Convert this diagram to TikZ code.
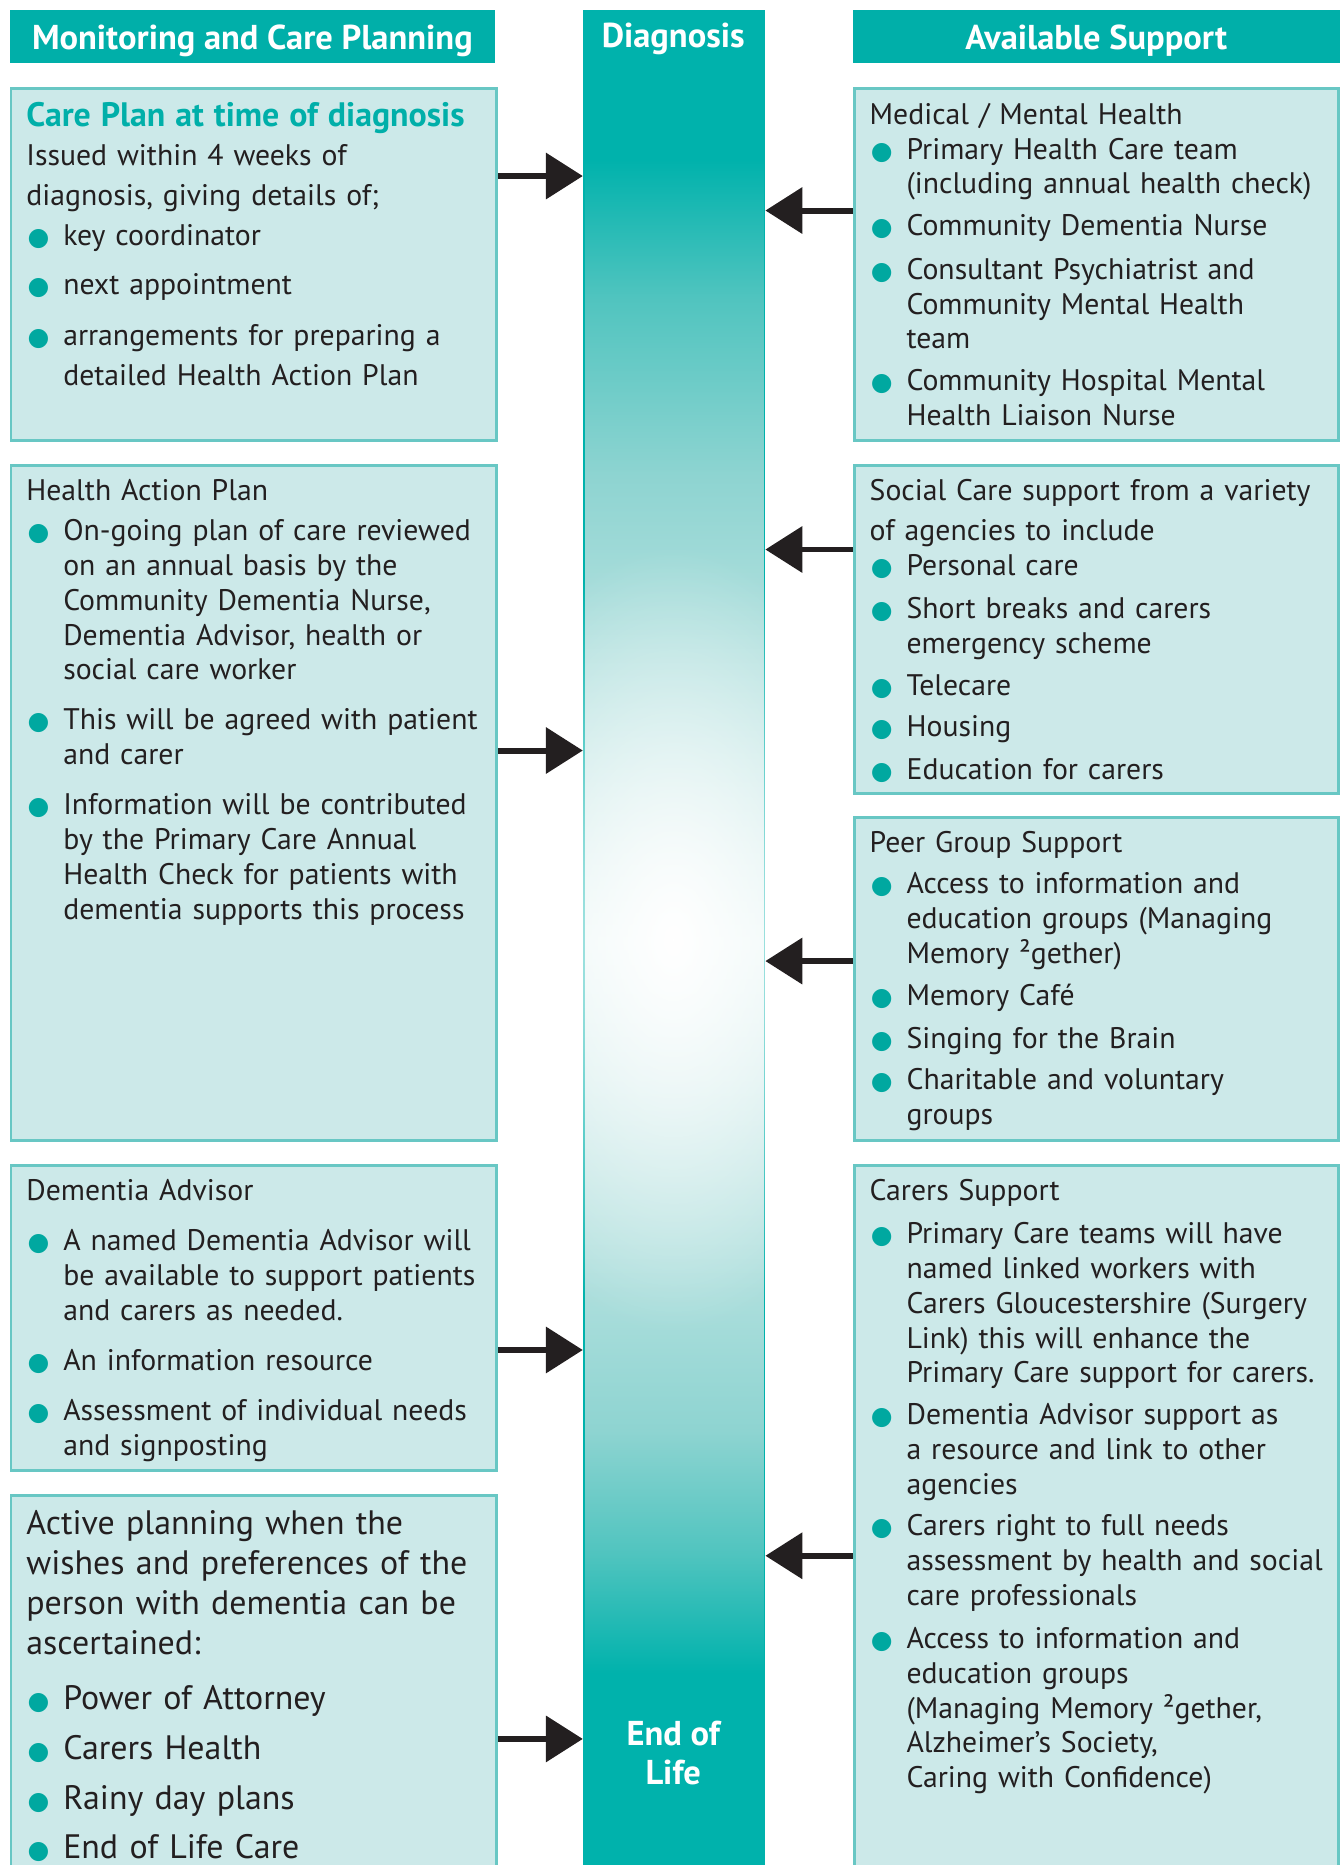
\documentclass[tikz,border=0pt]{standalone}
\usepackage{fontspec}
\setmainfont{PT Sans}
\newfontfamily\symf{DejaVu Sans}
\usetikzlibrary{arrows.meta,positioning,calc,fadings}
\definecolor{headteal}{RGB}{0,175,169}
\definecolor{barteal}{RGB}{0,178,172}
\definecolor{boxfill}{RGB}{204,233,233}
\definecolor{boxline}{RGB}{104,199,196}
\definecolor{bullet}{RGB}{0,168,160}
\definecolor{ink}{RGB}{35,31,32}
\definecolor{shA}{RGB}{80,196,191}
\definecolor{shB}{RGB}{142,212,209}
\definecolor{shC}{RGB}{180,225,223}
\definecolor{shD}{RGB}{212,237,236}
\definecolor{shE}{RGB}{232,246,245}
\pgfdeclareverticalshading{barshade}{100bp}{color(0bp)=(barteal); color(30.4bp)=(barteal);
  color(33.6bp)=(shA); color(36.9bp)=(shB); color(41.7bp)=(shC); color(46.5bp)=(shD);
  color(50bp)=(shE); color(52.9bp)=(shD); color(57.7bp)=(shC); color(62.5bp)=(shB);
  color(67.3bp)=(shA); color(71bp)=(barteal); color(100bp)=(barteal)}
\tikzfading[name=glow, inner color=transparent!0, outer color=transparent!100]
\newcommand{\bodyfont}{\fontsize{25}{29.3}\selectfont}
\newcommand{\headfont}{\fontsize{29}{33}\selectfont\bfseries}
\newcommand{\bdot}{\makebox[31pt][l]{\hspace{1pt}\textcolor{bullet}{\symf\fontsize{21}{21}\selectfont ●}}}
\newcommand{\bitem}[2][0pt]{\par\vspace{#1}\hangindent=31pt\hangafter=1\noindent\bdot#2}

\begin{document}
\begin{tikzpicture}[x=1pt, y=-1pt,
    head/.style={fill=headteal, text=white, font=\headfont, minimum height=45pt, inner sep=0pt,
      text height=21pt, text depth=0pt, anchor=north west},
    box/.style={draw=boxline, line width=2.5pt, fill=boxfill, anchor=north west, inner sep=0pt},
    txt/.style={anchor=base west, inner sep=0pt, text width=#1, align=left, text=ink, font=\bodyfont},
    arr/.style={-{Triangle[length=31pt,width=38pt]}, line width=5pt, draw=ink}
  ]
  \useasboundingbox (0,0) rectangle (1126,1568);

  % column headers
  \node[head, minimum width=408pt] (hleft) at (8,8) {Monitoring and Care Planning};
  \node[head, minimum width=409pt] (hright) at (717,8) {Available Support};

  % centre bar
  \node[anchor=north west, minimum width=152pt, minimum height=1567pt, inner sep=0pt,
    shade, shading=barshade, draw=barteal, line width=1.5pt] (bar) at (490,8) {};
  \begin{scope}
    \clip (bar.north west) rectangle (bar.south east);
    \fill[white, path fading=glow] (566,790) ellipse [x radius=190, y radius=330];
  \end{scope}
  \node[font=\headfont, text=white] (diag) at (566,33) {Diagnosis};
  \node[font=\headfont, text=white, align=center] (eol) at (566,1474) {End of\\Life};

  % left boxes
  \node[box, minimum width=408pt, minimum height=296pt] (care) at (8,73) {};
  \node[box, minimum width=408pt, minimum height=568pt] (hap) at (8,390) {};
  \node[box, minimum width=408pt, minimum height=256pt] (advisor) at (8,979) {};
  \node[box, minimum width=408pt, minimum height=330pt] (active) at (8,1256) {};

  % right boxes
  \node[box, minimum width=407pt, minimum height=296pt] (medical) at (717,73) {};
  \node[box, minimum width=407pt, minimum height=276pt] (social) at (717,390) {};
  \node[box, minimum width=407pt, minimum height=272pt] (peer) at (717,686) {};
  \node[box, minimum width=407pt, minimum height=610pt] (carers) at (717,979) {};

  % left texts
  \node[txt=420pt, font=\fontsize{25}{33.5}\selectfont] (caretxt) at (22,106)
    {{\fontsize{28.5}{33}\selectfont\bfseries\color{headteal}Care Plan at time of diagnosis}\newline
     Issued within 4 weeks of\newline diagnosis, giving details of;
     \bitem{key coordinator}
     \bitem[8pt]{next appointment}
     \bitem[9pt]{arrangements for preparing a\newline detailed Health Action Plan}\par};
  \node[txt=420pt] (haptxt) at (22,420.5)
    {Health Action Plan
     \bitem[4.7pt]{On-going plan of care reviewed\newline on an annual basis by the\newline Community Dementia Nurse,\newline Dementia Advisor, health or\newline social care worker}
     \bitem[12.7pt]{This will be agreed with patient\newline and carer}
     \bitem[12.7pt]{Information will be contributed\newline by the Primary Care Annual\newline Health Check for patients with\newline dementia supports this process}\par};
  \node[txt=420pt] (advtxt) at (22,1009.5)
    {Dementia Advisor
     \bitem[12.7pt]{A named Dementia Advisor will\newline be available to support patients\newline and carers as needed.}
     \bitem[12.7pt]{An information resource}
     \bitem[12.7pt]{Assessment of individual needs\newline and signposting}\par};
  \node[txt=420pt, font=\fontsize{28.5}{33.7}\selectfont] (acttxt) at (22,1290)
    {Active planning when the\newline wishes and preferences of the\newline person with dementia can be\newline ascertained:
     \bitem[12.3pt]{Power of Attorney}
     \bitem[8.3pt]{Carers Health}
     \bitem[8.3pt]{Rainy day plans}
     \bitem[7.3pt]{End of Life Care}\par};

  % right texts
  \node[txt=420pt] (medtxt) at (731,104.5)
    {Medical / Mental Health
     \bitem{Primary Health Care team\newline (including annual health check)}
     \bitem[6pt]{Community Dementia Nurse}
     \bitem[7pt]{Consultant Psychiatrist and\newline Community Mental Health\newline team}
     \bitem[6pt]{Community Hospital Mental\newline Health Liaison Nurse}\par};
  \node[txt=420pt] (soctxt) at (731,420.5)
    {Social Care support from a variety\par\vspace{4.7pt}of agencies to include
     \bitem{Personal care}
     \bitem[6.7pt]{Short breaks and carers\newline emergency scheme}
     \bitem[6pt]{Telecare}
     \bitem[5.7pt]{Housing}
     \bitem[6.7pt]{Education for carers}\par};
  \node[txt=420pt] (peertxt) at (731,716.5)
    {Peer Group Support
     \bitem[5.7pt]{Access to information and\newline education groups (Managing\newline Memory ²gether)}
     \bitem[5.7pt]{Memory Café}
     \bitem[6.7pt]{Singing for the Brain}
     \bitem[5.7pt]{Charitable and voluntary\newline groups}\par};
  \node[txt=420pt] (cartxt) at (731,1009.5)
    {Carers Support
     \bitem[6.7pt]{Primary Care teams will have\newline named linked workers with\newline Carers Gloucestershire (Surgery\newline Link) this will enhance the\newline Primary Care support for carers.}
     \bitem[5.7pt]{Dementia Advisor support as\newline a resource and link to other\newline agencies}
     \bitem[5.7pt]{Carers right to full needs\newline assessment by health and social\newline care professionals}
     \bitem[6.7pt]{Access to information and\newline education groups\newline (Managing Memory ²gether,\newline Alzheimer’s Society,\newline Caring with Confidence)}\par};

  % arrows into the bar
  \draw[arr] (care.north east) ++(0,75) coordinate (c1) -- (c1 -| bar.west);
  \draw[arr] (hap.north east) ++(0,241) coordinate (c2) -- (c2 -| bar.west);
  \draw[arr] (advisor.north east) ++(0,156) coordinate (c3) -- (c3 -| bar.west);
  \draw[arr] (active.north east) ++(0,206) coordinate (c4) -- (c4 -| bar.west);
  \draw[arr] (medical.north west) ++(0,104) coordinate (s1) -- (s1 -| bar.east);
  \draw[arr] (social.north west) ++(0,72) coordinate (s2) -- (s2 -| bar.east);
  \draw[arr] (peer.north west) ++(0,122) coordinate (s3) -- (s3 -| bar.east);
  \draw[arr] (carers.north west) ++(0,329) coordinate (s4) -- (s4 -| bar.east);
\end{tikzpicture}
\end{document}
